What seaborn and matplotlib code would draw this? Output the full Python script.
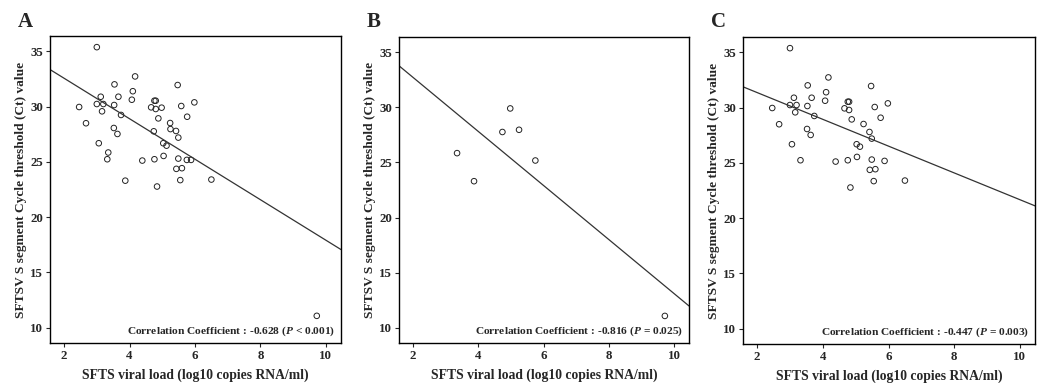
import numpy as np
import pandas as pd
import matplotlib
matplotlib.use("Agg")
import matplotlib.pyplot as plt
import seaborn as sns

# patients grouped as in panels B and C; panel A is everyone
b_load = [3.35, 3.87, 4.74, 4.98, 5.25, 5.75, 9.72]
b_ct = [25.85, 23.3, 27.77, 29.91, 27.97, 25.18, 11.06]

c_load = [3.00, 2.46, 2.67, 3.00, 3.12, 3.20, 3.16, 3.06, 3.32, 3.54,
          3.66, 3.53, 3.74, 3.52, 3.63, 4.17, 4.10, 4.07, 4.39, 4.66,
          4.76, 4.80, 4.80, 4.88, 5.03, 5.13, 5.04, 4.76, 5.24, 5.42,
          5.49, 5.47, 5.58, 5.49, 5.43, 5.60, 5.55, 5.76, 5.98, 5.88,
          6.50, 4.84]
c_ct = [35.39, 29.97, 28.50, 30.24, 30.90, 30.24, 29.58, 26.69, 25.24, 32.02,
        30.90, 30.15, 29.25, 28.07, 27.53, 32.74, 31.40, 30.63, 25.12, 29.94,
        30.54, 30.54, 29.79, 28.94, 26.69, 26.47, 25.54, 25.24, 28.52, 27.80,
        27.20, 31.96, 30.06, 25.30, 24.37, 24.43, 23.35, 29.09, 30.39, 25.18,
        23.40, 22.77]

panel_labels = ["A", "B", "C"]
corr_text = ["-0.628", "-0.816", "-0.447"]
p_text = ["< 0.001", "= 0.025", "= 0.003"]

a = pd.DataFrame({"load": b_load + c_load, "ct": b_ct + c_ct})
b = pd.DataFrame({"load": b_load, "ct": b_ct})
c = pd.DataFrame({"load": c_load, "ct": c_ct})

sns.set_style("ticks")
plt.rcParams["font.family"] = ["Liberation Serif", "DejaVu Serif"]
plt.rcParams["font.weight"] = "bold"
plt.rcParams["mathtext.fontset"] = "custom"
plt.rcParams["mathtext.it"] = "Liberation Serif:italic:bold"
plt.rcParams["mathtext.rm"] = "Liberation Serif:bold"

W, H = 1041, 383
fig = plt.figure(figsize=(W / 100, H / 100), dpi=100)
boxes = [(50, 36, 341, 343), (399, 37, 689, 343), (743, 37, 1035, 344)]

for df, box, lab, r, p in zip([a, b, c], boxes, panel_labels, corr_text, p_text):
    x0, y0, x1, y1 = box
    ax = fig.add_axes([x0 / W, 1 - y1 / H, (x1 - x0) / W, (y1 - y0) / H])
    ax.set_xlim(1.57, 10.46)
    ax.set_ylim(8.6, 36.4)
    sns.regplot(data=df, x="load", y="ct", ax=ax, ci=None, truncate=False,
                color="k",
                scatter_kws={"facecolors": "none", "edgecolors": "#222222",
                             "s": 16, "linewidths": 0.7, "alpha": 1},
                line_kws={"color": "#333333", "lw": 0.9})
    ax.set_xlim(1.57, 10.46)
    ax.set_ylim(8.6, 36.4)
    ax.set_xticks([2, 4, 6, 8, 10])
    ax.set_yticks([10, 15, 20, 25, 30, 35])
    ax.tick_params(labelsize=9.3, length=3, width=0.8, direction="out", pad=2)
    for s in ax.spines.values():
        s.set_linewidth(1.0)
        s.set_color("black")
    ax.set_xlabel("SFTS viral load (log10 copies RNA/ml)", fontsize=9.8,
                  fontweight="bold", labelpad=5)
    ax.set_ylabel("SFTSV S segment Cycle threshold (Ct) value", fontsize=9.6,
                  fontweight="bold", labelpad=2)
    ax.text(0.98, 0.037,
            "Correlation Coefficient : " + r + " ($\\it{P}$ " + p + ")",
            transform=ax.transAxes, ha="right", va="center", fontsize=8.2,
            fontweight="bold")
    fig.text((x0 - 25) / W, 1 - 22 / H, lab, fontsize=15, fontweight="bold",
             ha="center", va="center")

fig.savefig("out.png", dpi=100)
